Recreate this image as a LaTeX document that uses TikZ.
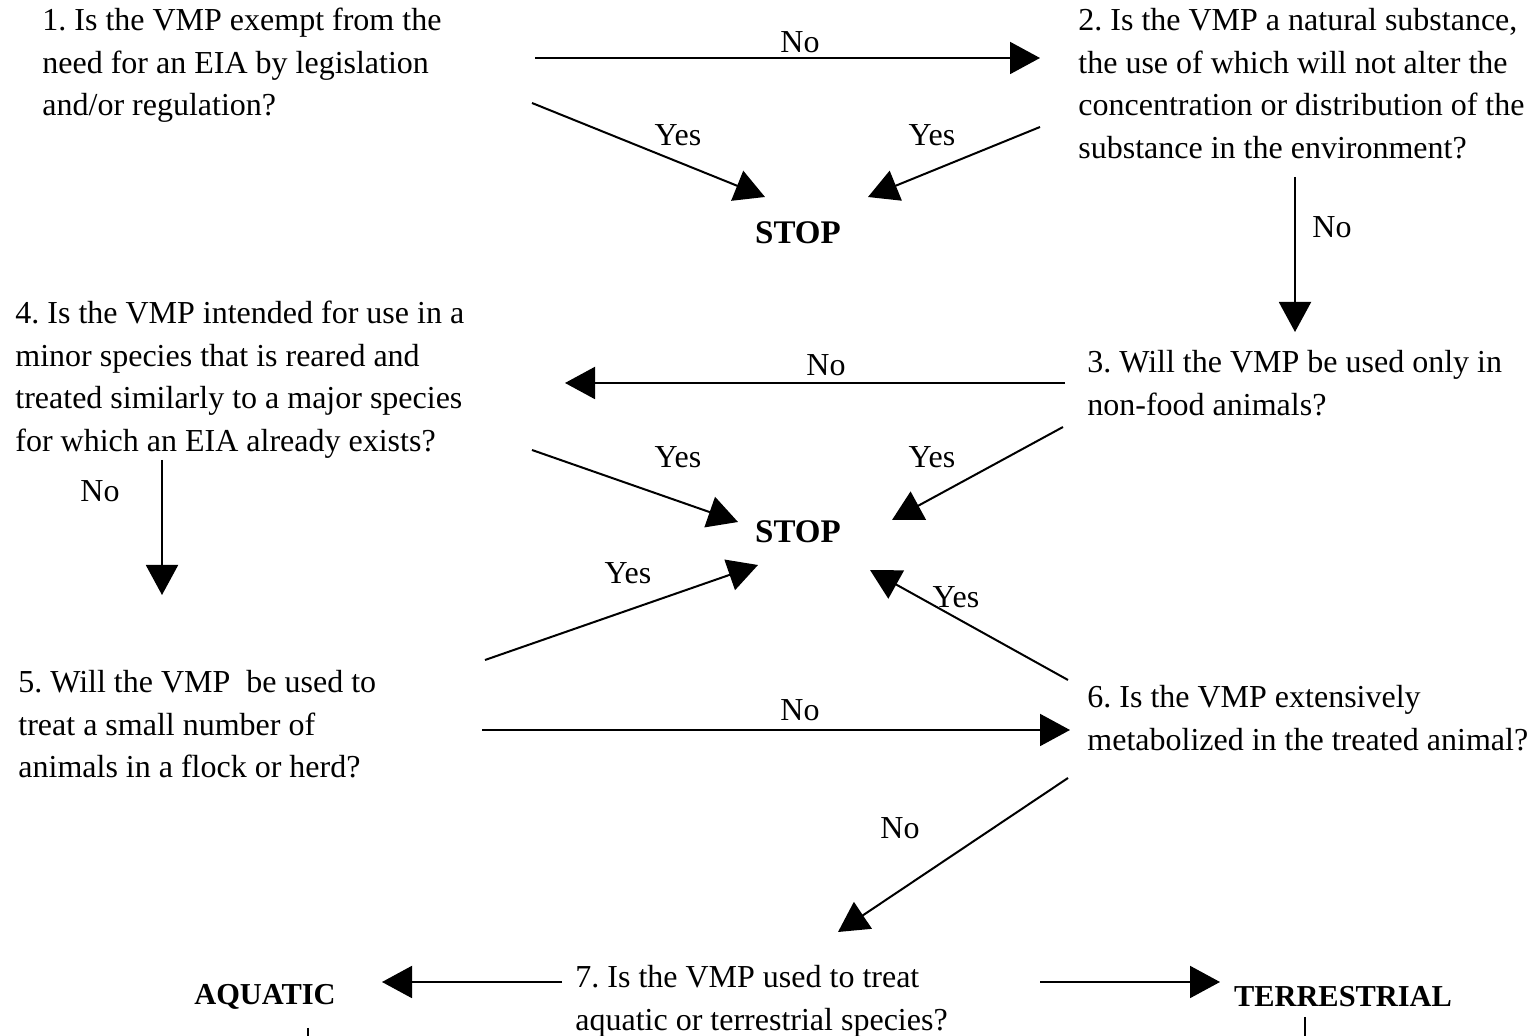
\documentclass[tikz,border=0pt]{standalone}
\usepackage{fontspec}
\setmainfont{Liberation Serif}
\usetikzlibrary{arrows.meta}
\frenchspacing
\begin{document}
\begin{tikzpicture}[x=0.5pt,y=-0.5pt,line join=round,>={Triangle[length=15pt,width=16pt]},font=\fontsize{16}{21.25}\selectfont]
	\tikzset{q/.style={anchor=north west,align=left,inner sep=0pt},
		lbl/.style={inner sep=0pt},
		stp/.style={inner sep=0pt,font=\fontsize{16.5}{20}\selectfont\bfseries},
		ends/.style={inner sep=0pt,font=\fontsize{15.2}{20}\selectfont\bfseries},
		arr/.style={->,line width=1pt}}
	\useasboundingbox (0,0) rectangle (1538,1036);
	% questions
	\node[q] (q1) at (42,8) {1. Is the VMP exempt from the\\need for an EIA by legislation\\and/or regulation?};
	\node[q] (q2) at (1078,8) {2. Is the VMP a natural substance,\\the use of which will not alter the\\concentration or distribution of the\\substance in the environment?};
	\node[q] (q3) at (1087,350) {3. Will the VMP be used only in\\non-food animals?};
	\node[q] (q4) at (15,301) {4. Is the VMP intended for use in a\\minor species that is reared and\\treated similarly to a major species\\for which an EIA already exists?};
	\node[q] (q5) at (18,670) {5. Will the VMP\ \ be used to\\treat a small number of\\animals in a flock or herd?};
	\node[q] (q6) at (1087,685) {6. Is the VMP extensively\\metabolized in the treated animal?};
	\node[q] (q7) at (575,965) {7. Is the VMP used to treat\\aquatic or terrestrial species?};
	% end points
	\node[stp] (stop1) at (798,233) {STOP};
	\node[stp] (stop2) at (798,532) {STOP};
	\node[ends] (aqua) at (265,997) {AQUATIC};
	\node[ends] (terr) at (1343,997) {TERRESTRIAL};
	% connectors
	\foreach \xa/\ya/\xb/\yb [count=\i] in {535/58/1040/58, 532/103/765/197, 1040/127/868/197,
		1295/177/1295/332, 1065/383/565/383, 532/450/738/522, 1063/427/892/520,
		162/460/162/595, 485/660/758/565, 1068/680/870/570, 482/730/1070/730,
		1068/778/838/932, 562/982/382/982, 1040/982/1220/982}
		{\coordinate (s\i) at (\xa,\ya); \coordinate (e\i) at (\xb,\yb);
		\draw[arr] (s\i) -- (e\i);}
	\foreach \n/\x/\y in {aq/308/1028, te/1305/1017}
		{\coordinate (\n a) at (\x,\y); \coordinate (\n b) at (\x,1036);
		\draw[line width=1pt] (\n a) -- (\n b);}
	% labels
	\foreach \t/\x/\y [count=\i] in {No/800/42, Yes/678/135, Yes/932/135, No/1332/227, No/826/365,
		Yes/678/457, Yes/932/457, No/100/491, Yes/628/573, Yes/956/597, No/800/710, No/900/828}
		\node[lbl] (l\i) at (\x,\y) {\t};
\end{tikzpicture}
\end{document}
